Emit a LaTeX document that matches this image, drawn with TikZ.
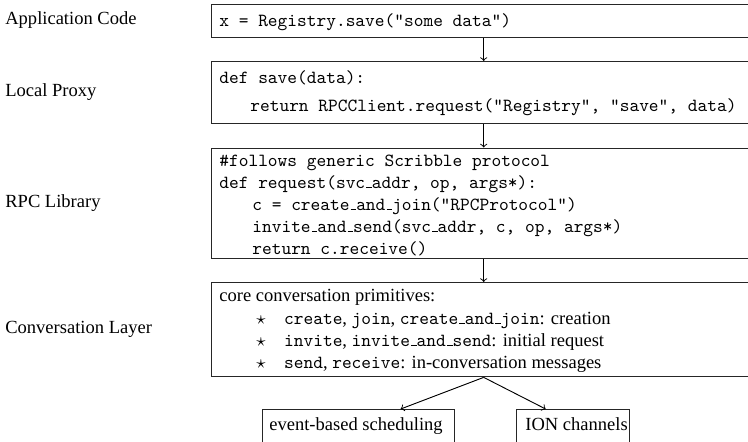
\documentclass[tikz,border=0pt]{standalone}
\usepackage{fontspec}
\setmainfont{Liberation Serif}
\usetikzlibrary{calc}
\newcommand{\us}{\leavevmode\kern.06em\vbox{\hrule width .3em height .7pt}}
\newcommand{\bul}{\makebox[15pt][l]{$\star$}}
\begin{document}
\begin{tikzpicture}[x=0.54pt,y=-0.54pt,
  box/.style={draw=black!85,line width=0.7pt,inner sep=0pt,anchor=north west},
  code/.style={anchor=base west,inner sep=0pt,font=\ttfamily},
  txt/.style={anchor=base west,inner sep=0pt},
  lab/.style={anchor=west,inner sep=0pt},
  arr/.style={->,line width=0.5pt}]
\useasboundingbox (0,0) rectangle (748,441);
\clip (0,0) rectangle (748,441);
% boxes
\node[box,minimum width=293.8pt,minimum height=17.7pt] (app) at (211,4) {};
\node[box,minimum width=293.8pt,minimum height=33.5pt] (proxy) at (211,61) {};
\node[box,minimum width=293.8pt,minimum height=59.7pt] (rpc) at (211,147.5) {};
\node[box,minimum width=293.8pt,minimum height=50.8pt] (conv) at (211,282) {};
\node[box,minimum width=103.7pt,minimum height=19pt] (ev) at (262,409) {};
\node[box,minimum width=61pt,minimum height=19pt] (ion) at (516,409) {};
% layer labels
\node[lab] (l1) at (5,20.5) {Application Code};
\node[lab] (l2) at (5,92) {Local Proxy};
\node[lab] (l3) at (5,203) {RPC Library};
\node[lab] (l4) at (5,329) {Conversation Layer};
% box contents
\node[code] (t1) at (219,26) {x = Registry.save("some data")};
\node[code] (t2a) at (219,83) {def save(data):};
\node[code] (t2b) at (250,111) {return RPCClient.request("Registry", "save", data)};
\node[code] (t3a) at (219,166) {\#follows generic Scribble protocol};
\node[code] (t3b) at (219,188) {def request(svc\us addr, op, args*):};
\node[code] (t3c) at (252,210) {c = create\us and\us join("RPCProtocol")};
\node[code] (t3d) at (252,232) {invite\us and\us send(svc\us addr, c, op, args*)};
\node[code] (t3e) at (252,254) {return c.receive()};
\node[txt] (t4a) at (219,301.5) {core conversation primitives:};
\node[txt] (t4b) at (256,324) {\bul\texttt{create}, \texttt{join}, \texttt{create\us and\us join}: creation};
\node[txt] (t4c) at (256,346) {\bul\texttt{invite}, \texttt{invite\us and\us send}: initial request};
\node[txt] (t4d) at (256,368) {\bul\texttt{send}, \texttt{receive}: in-conversation messages};
\node[txt] (t5) at (269,430) {event-based scheduling};
\node[txt] (t6) at (525,430) {ION channels};
% connectors
\draw[arr] (app.south) -- (proxy.north);
\draw[arr] (proxy.south) -- (rpc.north);
\draw[arr] (rpc.south) -- (conv.north);
\draw[arr] (conv.south) -- ($(ev.north)+(42,0)$);
\draw[arr] (conv.south) -- ($(ion.north)+(-27.5,0)$);
\end{tikzpicture}
\end{document}
